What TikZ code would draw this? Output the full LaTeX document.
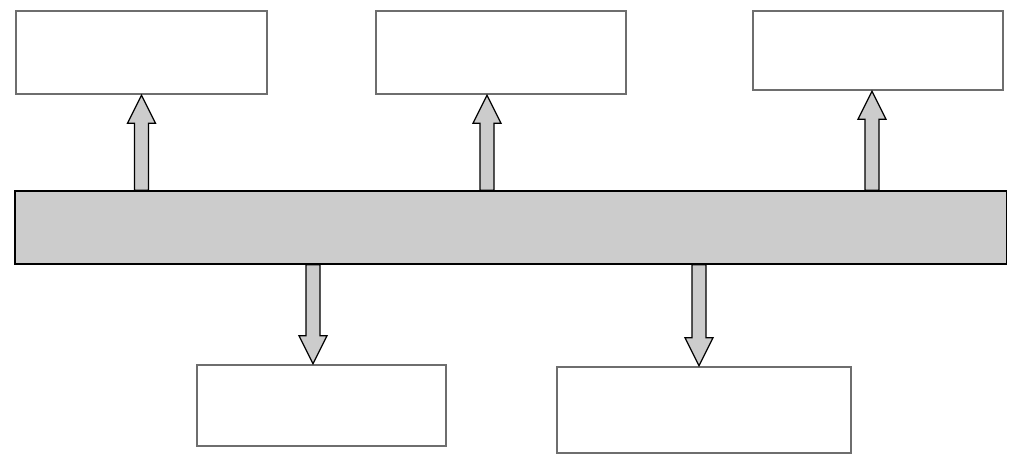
\documentclass[tikz,border=0pt]{standalone}
\usepackage{tikz}
\usetikzlibrary{calc}
\definecolor{boxgray}{RGB}{110, 110, 110}
\definecolor{barfill}{RGB}{204, 204, 204}

% block arrow from #1 (on the bar) to the tip #2
\newcommand{\blockarrow}[2]{%
  \path ($(#2)!0.7cm!(#1)$) coordinate (headbase);
  \draw[fatarrow] ($(#1)+(-7,0)$) -- ($(headbase)+(-7,0)$) -- ($(headbase)+(-14,0)$)
    -- (#2) -- ($(headbase)+(14,0)$) -- ($(headbase)+(7,0)$) -- ($(#1)+(7,0)$) -- cycle;}

\begin{document}
\begin{tikzpicture}[
    x=0.025cm, y=-0.025cm, % one unit = one pixel of the layout
    outbox/.style={rectangle, draw=boxgray, fill=white, line width=1.8pt, inner sep=0pt},
    bus/.style={rectangle, draw=black, fill=barfill, line width=0.9pt, inner sep=0pt},
    fatarrow/.style={draw=black, fill=barfill, line width=0.9pt, line join=miter}
]
\useasboundingbox (0,0) rectangle (1023,464);

\node[bus, minimum width=24.775cm, minimum height=1.825cm] (bar) at (510.5,227.5) {};

\node[outbox, minimum width=6.275cm, minimum height=2.075cm] (topleft)  at (141.5,52.5) {};
\node[outbox, minimum width=6.25cm,  minimum height=2.075cm] (topmid)   at (501,52.5) {};
\node[outbox, minimum width=6.25cm,  minimum height=1.975cm] (topright) at (878,50.5) {};
\node[outbox, minimum width=6.225cm, minimum height=2.025cm] (botleft)  at (321.5,405.5) {};
\node[outbox, minimum width=7.35cm,  minimum height=2.15cm]  (botright) at (704,410) {};

\coordinate (tipA) at (topleft.south);
\coordinate (tipB) at ($(topmid.south)+(-14,0)$);
\coordinate (tipC) at ($(topright.south)+(-6,0)$);
\coordinate (tipD) at ($(botleft.north)+(-8.5,0)$);
\coordinate (tipE) at ($(botright.north)+(-5,0)$);

\blockarrow{bar.north -| tipA}{tipA}
\blockarrow{bar.north -| tipB}{tipB}
\blockarrow{bar.north -| tipC}{tipC}
\blockarrow{bar.south -| tipD}{tipD}
\blockarrow{bar.south -| tipE}{tipE}
\end{tikzpicture}
\end{document}
